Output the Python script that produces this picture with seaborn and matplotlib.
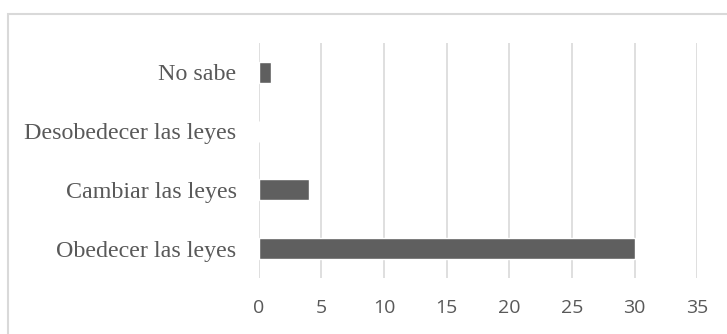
import matplotlib
matplotlib.use("Agg")
import matplotlib.pyplot as plt
import seaborn as sns
import pandas as pd

# Data (top to bottom)
categories = ["No sabe", "Desobedecer las leyes", "Cambiar las leyes", "Obedecer las leyes"]
values = [1, 0, 4, 30]
x_ticks = [0, 5, 10, 15, 20, 25, 30, 35]

df = pd.DataFrame({"Respuesta": categories, "Cantidad": values})

sns.set_style("white")

fig = plt.figure(figsize=(7.27, 3.34), dpi=100)
ax = fig.add_axes([0.356, 0.168, 0.603, 0.703])

sns.barplot(data=df, x="Cantidad", y="Respuesta", order=categories,
            color="#5f5f5f", saturation=1, width=0.36, ax=ax)

ax.set_xlim(0, 35)
ax.set_ylim(3.5, -0.5)
ax.set_xticks(x_ticks)
ax.set_xlabel("")
ax.set_ylabel("")
ax.grid(axis="x", color="#d9d9d9", linewidth=1.2)
ax.set_axisbelow(True)
sns.despine(ax=ax, left=True, bottom=True)

ax.tick_params(axis="x", length=0, pad=15, labelsize=14, labelcolor="#595959")
ax.tick_params(axis="y", length=0, pad=16, labelcolor="#595959")
for lab in ax.get_xticklabels():
    lab.set_family("Open Sans")
for lab in ax.get_yticklabels():
    lab.set_family("Liberation Serif")
    lab.set_fontsize(17.3)

# light frame around the chart area
frame = plt.Rectangle((0.011, -0.05), 1.2, 1.008, transform=fig.transFigure,
                      fill=False, edgecolor="#d9d9d9", linewidth=1.5)
fig.patches.append(frame)

fig.savefig("out.png", dpi=100)
